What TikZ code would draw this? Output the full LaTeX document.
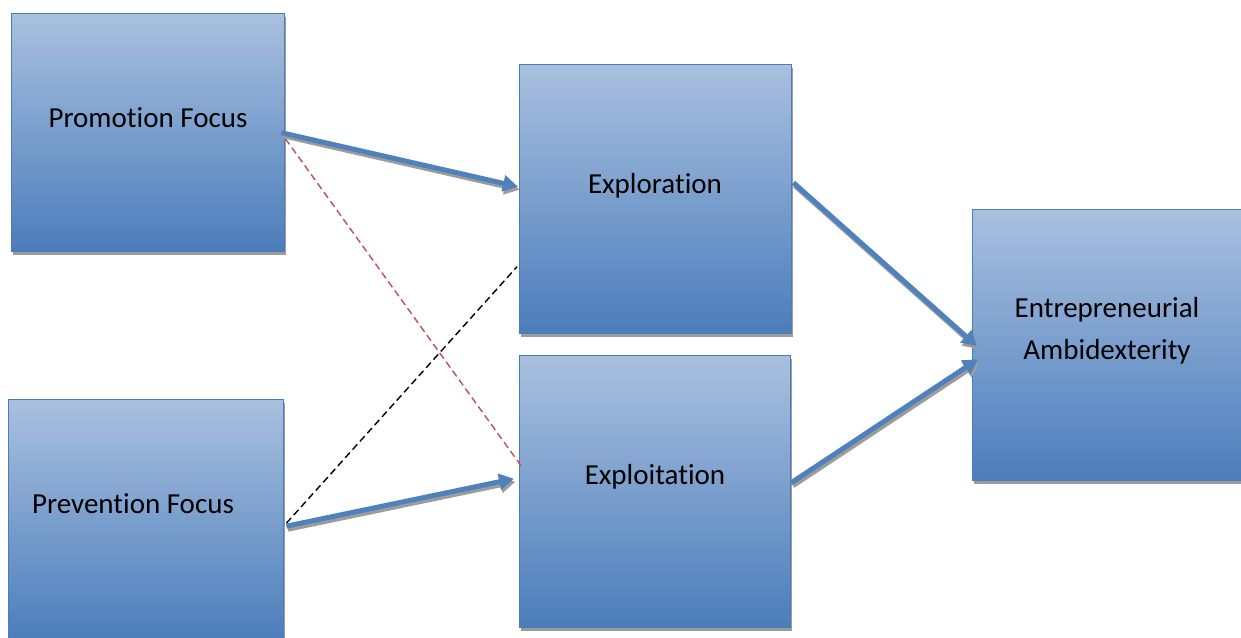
\documentclass[tikz,border=0pt]{standalone}
\usepackage{fontspec}
\setmainfont{Carlito}[Ligatures={NoCommon}]
\usetikzlibrary{arrows.meta,calc,shadows}
\definecolor{boxtop}{HTML}{A9C0DF}
\definecolor{boxbot}{HTML}{4B7DBB}
\definecolor{boxline}{HTML}{4A7EBB}
\definecolor{arrblue}{HTML}{4F81BD}
\definecolor{shad}{HTML}{9C9C9C}
\definecolor{dashred}{HTML}{C0504D}
\begin{document}
\begin{tikzpicture}[x=1pt,y=-1pt,
  box/.style n args={2}{draw=boxline, line width=1.4pt, top color=boxtop, bottom color=boxbot,
     minimum width=#1, minimum height=#2, inner sep=0pt, anchor=north west,
     drop shadow={shadow xshift=1.5pt, shadow yshift=-3pt, opacity=1, fill=shad}},
  lbl/.style={font=\fontsize{29}{35}\selectfont, anchor=base, inner sep=0pt},
  flow/.style={draw=arrblue, line width=5pt, -{Triangle[length=15pt,width=16pt]}},
  flowshadow/.style={draw=shad, line width=5pt, -{Triangle[length=15pt,width=16pt]},
     transform canvas={xshift=1.5pt,yshift=-3pt}},
  reddash/.style={draw=dashred, line width=1.4pt, dash pattern=on 7pt off 4pt},
  blackdash/.style={draw=black, line width=1.4pt, dash pattern=on 7pt off 4pt}
]
\useasboundingbox (0,0) rectangle (1241,637);

% boxes
\node[box={273pt}{238pt}] (prom) at (11,13) {};
\node[box={275pt}{242pt}] (prev) at (8,399) {};
\node[box={272pt}{269pt}] (explo) at (519,64) {};
\node[box={271pt}{272pt}] (expt) at (519,355) {};
\node[box={271pt}{271pt}] (entr) at (972,209) {};

% labels
\node[lbl] (promtxt) at (148,127) {Promotion Focus};
\node[lbl] (prevtxt) at (133,513) {Prevention Focus};
\node[lbl] (explotxt) at (655,193) {Exploration};
\node[lbl] (expttxt) at (655,484) {Exploitation};
\node[lbl] (entrtxtA) at (1107,317) {Entrepreneurial};
\node[lbl] (entrtxtB) at (1107,359) {Ambidexterity};

% connector end points
\coordinate (p1s) at ($(prom.east)+(-4,0)$);
\coordinate (p1e) at ($(explo.west)+(-1,-12.5)$);
\coordinate (p2s) at ($(prev.east)+(2,5.5)$);
\coordinate (p2e) at ($(expt.west)+(-5,-13)$);
\coordinate (p3s) at ($(explo.east)+(1,-16.5)$);
\coordinate (p3e) at ($(entr.west)+(5,1)$);
\coordinate (p4s) at ($(expt.east)+(0,-9)$);
\coordinate (p4e) at ($(entr.west)+(6,14)$);
\coordinate (r1s) at ($(prom.east)+(0,6)$);
\coordinate (r1e) at ($(expt.west)+(2,-26)$);
\coordinate (b1s) at ($(prev.east)+(2,2.5)$);
\coordinate (b1e) at ($(explo.west)+(-2,67.5)$);

% dashed links
\draw[reddash] (r1s) -- (r1e);
\draw[blackdash] (b1s) -- (b1e);

% arrows with shadows
\draw[flowshadow] (p1s) -- (p1e);
\draw[flowshadow] (p2s) -- (p2e);
\draw[flowshadow] (p3s) -- (p3e);
\draw[flowshadow] (p4s) -- (p4e);
\draw[flow] (p1s) -- (p1e);
\draw[flow] (p2s) -- (p2e);
\draw[flow] (p3s) -- (p3e);
\draw[flow] (p4s) -- (p4e);
\end{tikzpicture}
\end{document}
